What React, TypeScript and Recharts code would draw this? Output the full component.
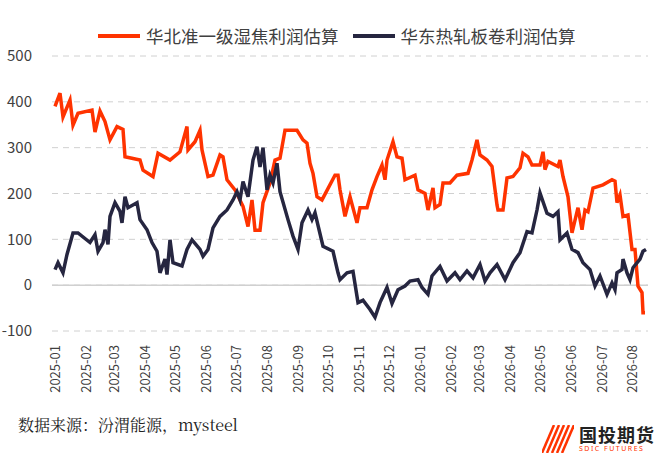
import { CartesianGrid, Line, LineChart, ReferenceLine, XAxis, YAxis } from "recharts";

const MONTH_LABELS = [
  "2025-01", "2025-02", "2025-03", "2025-04", "2025-05", "2025-06", "2025-07", "2025-08", "2025-09", "2025-10",
  "2025-11", "2025-12", "2026-01", "2026-02", "2026-03", "2026-04", "2026-05", "2026-06", "2026-07", "2026-08",
];
const MONTH_DAYS = [0, 31, 59, 90, 120, 151, 181, 212, 243, 273, 304, 334, 365, 396, 424, 455, 485, 516, 547, 577];
const Y_TICKS = [-100, 0, 100, 200, 300, 400, 500];

// days since 2025-01-01
const cokeDays = [0, 5, 8, 15, 18, 23, 37, 40, 45, 50, 55, 62, 68, 70, 85, 88, 98, 103, 115, 125, 132, 133, 140, 145, 147, 153, 158, 165, 168, 172, 180, 188, 193, 197, 200, 205, 208, 215, 220, 225, 230, 242, 248, 252, 255, 258, 262, 267, 280, 283, 285, 290, 295, 302, 305, 312, 317, 322, 327, 330, 332, 338, 342, 347, 350, 360, 363, 370, 373, 378, 380, 385, 388, 395, 402, 413, 417, 422, 425, 432, 437, 442, 443, 448, 452, 458, 465, 468, 473, 477, 485, 488, 490, 493, 503, 505, 508, 513, 517, 523, 527, 530, 533, 538, 548, 557, 560, 562, 565, 568, 573, 577, 580, 583, 587, 588, 590];
const cokeProfit = [390, 419, 367, 404, 349, 375, 382, 334, 380, 357, 317, 346, 340, 280, 273, 251, 237, 288, 273, 291, 346, 295, 313, 338, 295, 237, 240, 284, 280, 230, 208, 172, 128, 186, 120, 120, 180, 223, 273, 277, 338, 338, 317, 310, 266, 244, 193, 186, 240, 240, 208, 150, 193, 136, 169, 169, 208, 237, 262, 230, 273, 313, 280, 277, 230, 240, 208, 200, 164, 212, 169, 176, 223, 223, 240, 244, 273, 317, 284, 273, 259, 175, 164, 164, 234, 237, 256, 288, 280, 262, 262, 291, 252, 270, 259, 273, 237, 193, 114, 169, 121, 164, 160, 212, 219, 230, 227, 180, 197, 150, 153, 78, 78, -2, -16, -60, -60];

const coilDays = [0, 3, 8, 12, 18, 23, 35, 40, 43, 48, 50, 53, 55, 60, 65, 67, 70, 73, 82, 85, 92, 97, 102, 105, 110, 112, 115, 118, 127, 132, 137, 145, 148, 153, 158, 165, 172, 178, 182, 185, 188, 193, 198, 202, 205, 208, 212, 215, 218, 222, 225, 233, 238, 243, 247, 253, 257, 260, 268, 278, 283, 285, 292, 298, 303, 308, 315, 320, 325, 332, 337, 343, 350, 355, 363, 367, 373, 377, 385, 392, 400, 405, 412, 418, 425, 430, 435, 442, 450, 458, 465, 472, 477, 482, 485, 492, 498, 503, 505, 512, 517, 523, 528, 535, 540, 545, 552, 557, 560, 562, 567, 568, 572, 575, 578, 585, 588, 591];
const coilProfit = [34, 49, 27, 67, 114, 114, 93, 110, 74, 93, 121, 89, 150, 180, 161, 136, 193, 169, 180, 143, 121, 93, 74, 27, 57, 23, 99, 49, 42, 78, 99, 78, 63, 78, 125, 150, 164, 186, 204, 186, 226, 193, 273, 302, 258, 300, 208, 240, 223, 266, 204, 143, 107, 78, 136, 164, 143, 158, 85, 74, 27, 12, 27, 30, -38, -33, -53, -70, -38, -5, -40, -10, -2, 9, 12, -5, -20, 20, 41, 9, 27, 12, 31, 16, 45, 9, 27, 45, 12, 49, 71, 117, 114, 164, 201, 157, 150, 160, 99, 114, 78, 71, 49, 34, -2, 20, -20, 5, -10, 27, 34, 57, 27, 12, 38, 57, 74, 78];

const RED = "#ff3300";
const DARK = "#262640";
const FONT = "'Noto Sans CJK SC', 'Noto Sans', sans-serif";

const cokeData = cokeDays.map((d, i) => ({ d, v: cokeProfit[i] }));
const coilData = coilDays.map((d, i) => ({ d, v: coilProfit[i] }));

function MonthTick({ x, y, payload }: any) {
  const label = MONTH_LABELS[MONTH_DAYS.indexOf(payload.value)] ?? "";
  return (
    <text x={x} y={y} transform={`rotate(-90 ${x} ${y})`} dx={-6} dy={5} textAnchor="end" fontSize={13} fill="#404040" fontFamily={FONT}>
      {label}
    </text>
  );
}

export default function App() {
  return (
    <div style={{ position: "absolute", left: 0, top: 0, width: 665, height: 455, background: "#fff", fontFamily: FONT }}>
      <div style={{ position: "absolute", top: 23, left: 98, display: "flex", alignItems: "center", fontSize: 17.5, color: "#404040", whiteSpace: "nowrap" }}>
        <span style={{ width: 42, height: 4, background: RED, marginRight: 6 }} />
        <span style={{ marginRight: 14 }}>华北准一级湿焦利润估算</span>
        <span style={{ width: 42, height: 4, background: DARK, marginRight: 6 }} />
        <span>华东热轧板卷利润估算</span>
      </div>
      <LineChart width={665} height={455} margin={{ top: 56, right: 17, left: -6, bottom: 60 }}>
        <CartesianGrid horizontal vertical={false} stroke="#d0d0d0" strokeDasharray="6 5" />
        <XAxis
          type="number"
          dataKey="d"
          domain={[-3, 593]}
          ticks={MONTH_DAYS}
          interval={0}
          tick={<MonthTick />}
          axisLine={false}
          tickLine={false}
          height={64}
          allowDuplicatedCategory={false}
        />
        <YAxis
          domain={[-100, 500]}
          ticks={Y_TICKS}
          width={58}
          axisLine={false}
          tickLine={false}
          tickMargin={14}
          tick={{ fontSize: 15, fill: "#404040", fontFamily: FONT }}
        />
        <ReferenceLine y={0} stroke="#d0d0d0" strokeWidth={1.5} />
        <Line data={cokeData} dataKey="v" type="linear" stroke={RED} strokeWidth={3.5} dot={false} isAnimationActive={false} />
        <Line data={coilData} dataKey="v" type="linear" stroke={DARK} strokeWidth={3.5} dot={false} isAnimationActive={false} />
      </LineChart>
      <div style={{ position: "absolute", left: 18, top: 413, fontSize: 16, color: "#222", fontFamily: "'Noto Serif CJK SC', 'Noto Sans CJK SC', serif" }}>
        数据来源：汾渭能源，mysteel
      </div>
      <div style={{ position: "absolute", left: 542, top: 424, display: "flex", alignItems: "center" }}>
        <svg width={32} height={28}>
          {[0, 5, 10, 15, 20].map((o) => (
            <line key={o} x1={o} y1={28} x2={o + 12} y2={0} stroke={RED} strokeWidth={2.5} />
          ))}
        </svg>
        <div style={{ marginLeft: 5, display: "flex", flexDirection: "column" }}>
          <div style={{ fontSize: 18, fontWeight: 700, color: "#222", letterSpacing: 1, lineHeight: "20px" }}>国投期货</div>
          <div style={{ fontSize: 7, color: RED, letterSpacing: 1.5, lineHeight: "9px", fontFamily: "'Noto Sans', sans-serif" }}>SDIC FUTURES</div>
        </div>
      </div>
    </div>
  );
}
